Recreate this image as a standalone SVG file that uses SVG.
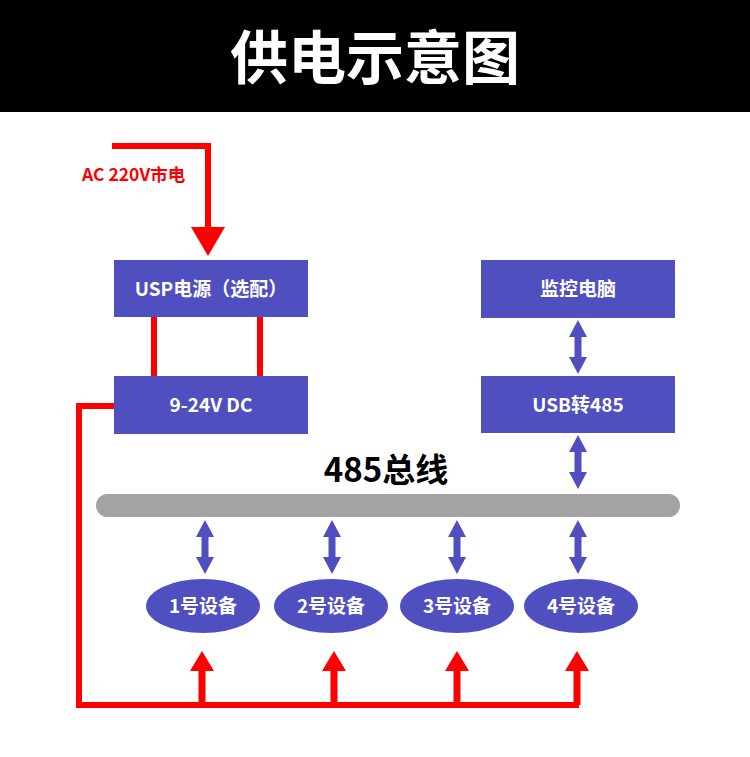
<svg xmlns="http://www.w3.org/2000/svg" width="750" height="757" viewBox="0 0 750 757">
<style>
.box{fill:#4f4fc0}
.bt{fill:#fff;font-family:"Noto Sans CJK SC","Noto Sans",sans-serif;font-weight:bold;font-size:19px;text-anchor:middle}
.red{stroke:#ff0000;stroke-width:6;fill:none}
.redf{fill:#ff0000}
.blue{fill:#4f4fc0}
</style>
<defs>
<path id="dbl" d="M0,0 L9,17 L3.5,17 L3.5,37 L9,37 L0,54 L-9,37 L-3.5,37 L-3.5,17 L-9,17 Z"/>
<path id="up" d="M0,0 L12,20 L3.5,20 L3.5,54 L-3.5,54 L-3.5,20 L-12,20 Z"/>
</defs>
<rect x="0" y="0" width="750" height="112" fill="#000"/>
<text x="375" y="79" fill="#fff" font-family="'Noto Sans CJK SC',sans-serif" font-weight="bold" font-size="58" text-anchor="middle">供电示意图</text>

<g id="connectors">
<polyline class="red" points="112,146 208,146 208,228"/>
<polygon class="redf" points="191,227 225,227 208,256"/>
<text x="82" y="181" fill="#ff0000" font-family="'Noto Sans CJK SC',sans-serif" font-weight="bold" font-size="17.5">AC 220V市电</text>
<line class="red" x1="154" y1="317" x2="154" y2="377"/>
<line class="red" x1="260" y1="317" x2="260" y2="377"/>
<polyline class="red" points="114,406 79,406 79,705 579,705"/>
<use href="#up" x="202" y="651" class="redf"/>
<use href="#up" x="334" y="651" class="redf"/>
<use href="#up" x="457" y="651" class="redf"/>
<use href="#up" x="577" y="651" class="redf"/>
<use href="#dbl" x="578" y="320" class="blue"/>
<use href="#dbl" x="578" y="435" class="blue"/>
<use href="#dbl" x="205" y="520" class="blue"/>
<use href="#dbl" x="332" y="520" class="blue"/>
<use href="#dbl" x="457" y="520" class="blue"/>
<use href="#dbl" x="578" y="520" class="blue"/>
</g>

<g id="bus">
<rect x="96" y="494" width="584" height="23" rx="11.5" fill="#a3a3a3"/>
<text x="386" y="482" fill="#000" font-family="'Noto Sans CJK SC',sans-serif" font-weight="bold" font-size="33" text-anchor="middle">485总线</text>
</g>

<g id="usp"><rect class="box" x="114" y="260" width="194" height="57"/><text class="bt" x="211" y="296">USP电源（选配）</text></g>
<g id="dc"><rect class="box" x="114" y="376" width="194" height="58"/><text class="bt" x="211" y="412">9-24V DC</text></g>
<g id="pc"><rect class="box" x="481" y="260" width="194" height="58"/><text class="bt" x="578" y="296">监控电脑</text></g>
<g id="usb485"><rect class="box" x="481" y="376" width="194" height="57"/><text class="bt" x="578" y="412">USB转485</text></g>

<g id="dev1"><ellipse class="box" cx="203" cy="606" rx="57" ry="27"/><text class="bt" x="203" y="613">1号设备</text></g>
<g id="dev2"><ellipse class="box" cx="331" cy="606" rx="57" ry="27"/><text class="bt" x="331" y="613">2号设备</text></g>
<g id="dev3"><ellipse class="box" cx="457" cy="606" rx="57" ry="27"/><text class="bt" x="457" y="613">3号设备</text></g>
<g id="dev4"><ellipse class="box" cx="581" cy="606" rx="57" ry="27"/><text class="bt" x="581" y="613">4号设备</text></g>
</svg>
